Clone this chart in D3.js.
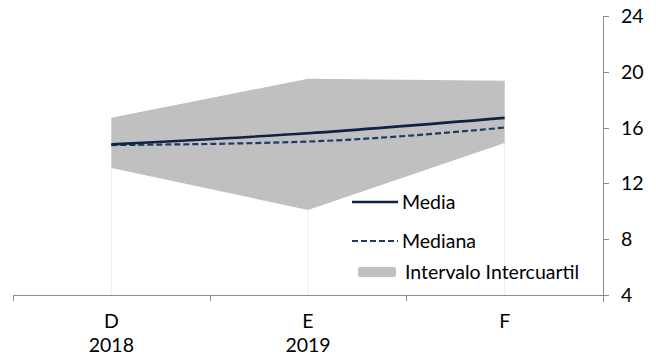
<!DOCTYPE html>
<html><head><meta charset="utf-8">
<script src="https://cdn.jsdelivr.net/npm/d3@7"></script>
<style>body{margin:0;background:#fff}svg text{font-family:Lato,"Open Sans",sans-serif;fill:#000}</style>
</head><body><svg id="c" width="656" height="356"></svg>
<script>
const categories = ["D", "E", "F"];
const years = ["2018", "2019", ""];
const media = [14.8, 15.6, 16.7];
const mediana = [14.75, 15.0, 16.0];
const q1 = [13.1, 10.1, 14.9];
const q3 = [16.7, 19.5, 19.35];
const yTicks = [4, 8, 12, 16, 20, 24];

const FS = 19.5;
const svg = d3.select("#c");
const x = d3.scaleBand().domain(categories).range([13, 603]);
const y = d3.scaleLinear().domain([4, 24]).range([295, 16]);
const cx = c => x(c) + x.bandwidth() / 2;
const data = categories.map((c, i) => ({c, media: media[i], mediana: mediana[i], q1: q1[i], q3: q3[i]}));

// faint drop lines
svg.selectAll(".drop").data(data).enter().append("line")
  .attr("x1", d => cx(d.c)).attr("x2", d => cx(d.c))
  .attr("y1", d => y(d.q1)).attr("y2", y(4))
  .attr("stroke", "#ececec").attr("stroke-width", 1);

svg.append("path").datum(data)
  .attr("d", d3.area().x(d => cx(d.c)).y0(d => y(d.q1)).y1(d => y(d.q3)))
  .attr("fill", "#c0c0c0");

svg.append("path").datum(data)
  .attr("d", d3.line().x(d => cx(d.c)).y(d => y(d.mediana)).curve(d3.curveMonotoneX))
  .attr("fill", "none").attr("stroke", "#1f3a68").attr("stroke-width", 2.2).attr("stroke-dasharray", "6,3");
svg.append("path").datum(data)
  .attr("d", d3.line().x(d => cx(d.c)).y(d => y(d.media)).curve(d3.curveMonotoneX))
  .attr("fill", "none").attr("stroke", "#0f2346").attr("stroke-width", 2.6);

// x axis
const xa = svg.append("g");
xa.append("line").attr("x1", 13).attr("x2", 603).attr("y1", 295.5).attr("y2", 295.5).attr("stroke", "#8c8c8c");
const bounds = categories.map(c => x(c)).concat([x(categories[categories.length-1]) + x.bandwidth()]);
xa.selectAll(".xt").data(bounds).enter().append("line")
  .attr("x1", d => Math.round(d) + 0.5).attr("x2", d => Math.round(d) + 0.5)
  .attr("y1", 295).attr("y2", 301).attr("stroke", "#8c8c8c");
xa.selectAll(".xl").data(categories).enter().append("text")
  .attr("x", d => cx(d)).attr("y", 328).attr("text-anchor", "middle").attr("font-size", FS).text(d => d);
xa.selectAll(".yl").data(years).enter().append("text")
  .attr("x", (d, i) => cx(categories[i])).attr("y", 352).attr("text-anchor", "middle").attr("font-size", FS).text(d => d);

// y axis (right)
const ya = svg.append("g");
ya.append("line").attr("x1", 603.5).attr("x2", 603.5).attr("y1", y(24)).attr("y2", 302).attr("stroke", "#8c8c8c");
ya.selectAll(".yt").data(yTicks).enter().append("line")
  .attr("x1", 603).attr("x2", 609).attr("y1", d => Math.round(y(d)) + 0.5).attr("y2", d => Math.round(y(d)) + 0.5)
  .attr("stroke", "#8c8c8c");
ya.selectAll(".ytl").data(yTicks).enter().append("text")
  .attr("x", 621).attr("y", d => y(d) + 7).attr("font-size", FS).text(d => d);

// legend
const lg = svg.append("g");
lg.append("line").attr("x1", 352).attr("x2", 398).attr("y1", 202).attr("y2", 202).attr("stroke", "#0f2346").attr("stroke-width", 2.6);
lg.append("text").attr("x", 402).attr("y", 209).attr("font-size", FS).text("Media");
lg.append("line").attr("x1", 352).attr("x2", 398).attr("y1", 241).attr("y2", 241).attr("stroke", "#1f3a68").attr("stroke-width", 2.2).attr("stroke-dasharray", "6,3");
lg.append("text").attr("x", 402).attr("y", 248).attr("font-size", FS).text("Mediana");
lg.append("rect").attr("x", 358).attr("y", 267).attr("width", 38).attr("height", 10).attr("rx", 2).attr("fill", "#c0c0c0");
lg.append("text").attr("x", 405).attr("y", 279).attr("font-size", FS).text("Intervalo Intercuartil");
</script></body></html>
